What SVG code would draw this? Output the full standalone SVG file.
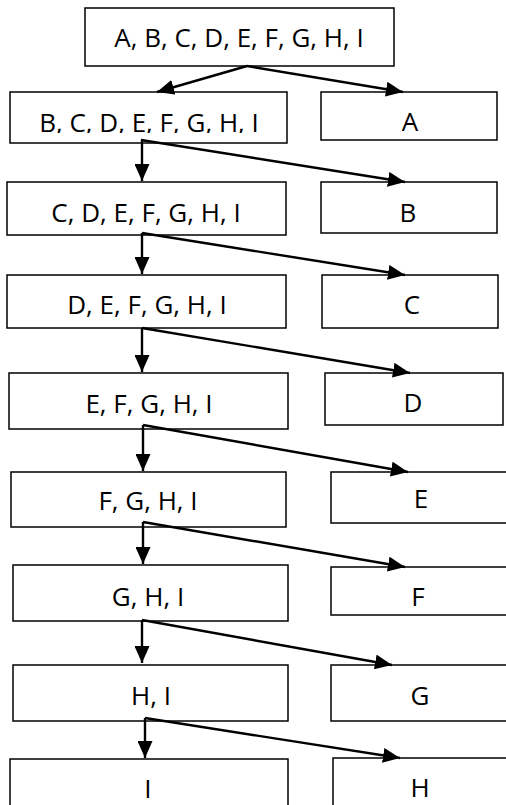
<svg xmlns="http://www.w3.org/2000/svg" width="506" height="805" viewBox="0 0 506 805">
  <style>
    .box { fill: #ffffff; stroke: #000000; stroke-width: 1.5; }
    .lbl { font-family: "Open Sans", "Liberation Sans", sans-serif; font-size: 26px; fill: #000000; text-anchor: middle; }
    .edge { stroke: #000000; stroke-width: 2.4; fill: none; marker-end: url(#arrow); }
  </style>
  <defs>
    <marker id="arrow" markerUnits="userSpaceOnUse" markerWidth="17" markerHeight="15" refX="17" refY="7.5" orient="auto">
      <path d="M0,0 L17,7.5 L0,15 Z" fill="#000000"/>
    </marker>
    <clipPath id="row2clip">
      <rect x="10" y="92" width="277" height="41"/>
    </clipPath>
  </defs>

  <rect width="506" height="805" fill="#ffffff"/>

  <!-- remaining set -->
  <g id="n-abcdefghi">
    <rect class="box" x="85" y="8" width="309" height="58"/>
    <text class="lbl" x="239" y="47">A, B, C, D, E, F, G, H, I</text>
  </g>
  <g id="n-bcdefghi">
    <rect class="box" x="10" y="92" width="277" height="51"/>
    <text class="lbl" x="149" y="132" clip-path="url(#row2clip)">B, C, D, E, F, G, H, I</text>
  </g>
  <g id="n-cdefghi">
    <rect class="box" x="7" y="182" width="279" height="53"/>
    <text class="lbl" x="146" y="222">C, D, E, F, G, H, I</text>
  </g>
  <g id="n-defghi">
    <rect class="box" x="7" y="275" width="279" height="53"/>
    <text class="lbl" x="147" y="314">D, E, F, G, H, I</text>
  </g>
  <g id="n-efghi">
    <rect class="box" x="9" y="373" width="279" height="56"/>
    <text class="lbl" x="149" y="413">E, F, G, H, I</text>
  </g>
  <g id="n-fghi">
    <rect class="box" x="11" y="472" width="275" height="55"/>
    <text class="lbl" x="148" y="510">F, G, H, I</text>
  </g>
  <g id="n-ghi">
    <rect class="box" x="13" y="565" width="275" height="56"/>
    <text class="lbl" x="148" y="606">G, H, I</text>
  </g>
  <g id="n-hi">
    <rect class="box" x="13" y="665" width="275" height="56"/>
    <text class="lbl" x="151" y="705">H, I</text>
  </g>
  <g id="n-i">
    <rect class="box" x="10" y="759" width="278" height="60"/>
    <text class="lbl" x="148" y="798">I</text>
  </g>

  <!-- removed items -->
  <g id="n-a">
    <rect class="box" x="321" y="92" width="176" height="48"/>
    <text class="lbl" x="410" y="131">A</text>
  </g>
  <g id="n-b">
    <rect class="box" x="321" y="182" width="176" height="51"/>
    <text class="lbl" x="408" y="222">B</text>
  </g>
  <g id="n-c">
    <rect class="box" x="322" y="275" width="176" height="53"/>
    <text class="lbl" x="412" y="314">C</text>
  </g>
  <g id="n-d">
    <rect class="box" x="325" y="373" width="178" height="52"/>
    <text class="lbl" x="413" y="412">D</text>
  </g>
  <g id="n-e">
    <rect class="box" x="331" y="472" width="185" height="51"/>
    <text class="lbl" x="421" y="508">E</text>
  </g>
  <g id="n-f">
    <rect class="box" x="331" y="567" width="185" height="48"/>
    <text class="lbl" x="418" y="606">F</text>
  </g>
  <g id="n-g">
    <rect class="box" x="331" y="665" width="185" height="56"/>
    <text class="lbl" x="420" y="705">G</text>
  </g>
  <g id="n-h">
    <rect class="box" x="333" y="758" width="183" height="60"/>
    <text class="lbl" x="420" y="797">H</text>
  </g>

  <!-- connectors -->
  <g id="connectors">
    <line class="edge" x1="247" y1="66" x2="157" y2="92"/>
    <line class="edge" x1="247" y1="66" x2="403" y2="92"/>

    <line class="edge" x1="142" y1="140" x2="142" y2="181"/>
    <line class="edge" x1="141" y1="140" x2="405" y2="182"/>

    <line class="edge" x1="142" y1="233" x2="142" y2="274"/>
    <line class="edge" x1="142" y1="233" x2="405" y2="275"/>

    <line class="edge" x1="142" y1="328" x2="142" y2="372"/>
    <line class="edge" x1="142" y1="328" x2="410" y2="373"/>

    <line class="edge" x1="143" y1="425" x2="143" y2="471"/>
    <line class="edge" x1="143" y1="425" x2="408" y2="472"/>

    <line class="edge" x1="143" y1="522" x2="143" y2="564"/>
    <line class="edge" x1="143" y1="522" x2="405" y2="567"/>

    <line class="edge" x1="142" y1="620" x2="142" y2="663"/>
    <line class="edge" x1="142" y1="620" x2="392" y2="665"/>

    <line class="edge" x1="145" y1="718" x2="145" y2="758"/>
    <line class="edge" x1="145" y1="718" x2="400" y2="758"/>
  </g>
</svg>
